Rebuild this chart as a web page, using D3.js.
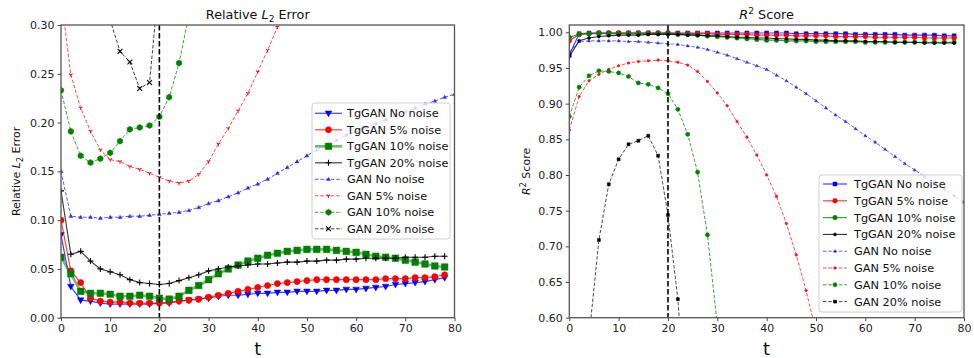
<!DOCTYPE html>
<html><head><meta charset="utf-8">
<script src="https://cdn.jsdelivr.net/npm/d3@7"></script>
<style>body{margin:0;background:#fff}svg{display:block;font-family:"DejaVu Sans",sans-serif}</style>
</head><body><svg id="c" width="974" height="358"></svg>
<script>
// ---- time points ----
const tAll = [0,2,4,6,8,10,12,14,16,18,20,22,24,26,28,30,32,34,36,38,40,42,44,46,48,50,52,54,56,58,60,62,64,66,68,70,72,74,76,78,80];
const xTicks = [0,10,20,30,40,50,60,70,80];
const yTicksL2 = [0.00,0.05,0.10,0.15,0.20,0.25,0.30];
const yTicksR2 = [0.60,0.65,0.70,0.75,0.80,0.85,0.90,0.95,1.00];
const seriesNames = ["TgGAN No noise","TgGAN 5% noise","TgGAN 10% noise","TgGAN 20% noise","GAN No noise","GAN 5% noise","GAN 10% noise","GAN 20% noise"];

// ---- Relative L2 error ----
const l2TgNone = [0.085,0.032,0.018,0.017,0.015,0.014,0.014,0.014,0.014,0.014,0.015,0.015,0.017,0.018,0.019,0.020,0.022,0.023,0.023,0.024,0.025,0.025,0.026,0.026,0.027,0.027,0.027,0.028,0.028,0.029,0.029,0.030,0.031,0.032,0.034,0.035,0.036,0.037,0.039,0.041];
const l2Tg5 = [0.100,0.048,0.036,0.020,0.017,0.016,0.016,0.015,0.015,0.015,0.015,0.016,0.017,0.018,0.019,0.021,0.023,0.025,0.027,0.029,0.031,0.033,0.035,0.036,0.037,0.038,0.039,0.039,0.039,0.039,0.039,0.039,0.039,0.040,0.040,0.040,0.041,0.041,0.042,0.044];
const l2Tg10 = [0.062,0.045,0.027,0.025,0.025,0.024,0.022,0.022,0.023,0.022,0.020,0.019,0.022,0.028,0.033,0.039,0.045,0.050,0.054,0.058,0.061,0.064,0.066,0.068,0.069,0.070,0.070,0.070,0.069,0.068,0.067,0.065,0.063,0.062,0.061,0.059,0.057,0.055,0.053,0.052];
const l2Tg20 = [0.130,0.065,0.068,0.058,0.050,0.047,0.044,0.039,0.036,0.035,0.034,0.035,0.038,0.041,0.044,0.048,0.050,0.052,0.053,0.054,0.055,0.055,0.056,0.057,0.057,0.058,0.058,0.059,0.059,0.060,0.060,0.061,0.061,0.061,0.061,0.062,0.062,0.062,0.063,0.063];
const l2GanNone = [0.150,0.104,0.103,0.103,0.102,0.103,0.103,0.104,0.104,0.105,0.106,0.107,0.108,0.110,0.113,0.117,0.120,0.124,0.128,0.133,0.137,0.142,0.148,0.154,0.160,0.166,0.172,0.177,0.182,0.187,0.191,0.195,0.199,0.203,0.207,0.211,0.215,0.219,0.222,0.226,0.229];
const l2Gan5 = [0.330,0.249,0.215,0.191,0.172,0.162,0.160,0.155,0.152,0.148,0.144,0.140,0.138,0.140,0.147,0.160,0.178,0.194,0.212,0.230,0.252,0.274,0.298,0.322,0.347];
const l2Gan10 = [0.233,0.191,0.166,0.159,0.163,0.169,0.181,0.193,0.195,0.197,0.206,0.226,0.261,0.310,0.370];
const l2Gan20 = [0.600,0.520,0.450,0.400,0.360,0.305,0.273,0.262,0.235,0.241,0.348,0.450];

// ---- R2 score ----
const r2TgNone = [0.968,0.998,0.999,0.999,0.999,0.999,0.999,0.999,0.999,0.999,0.999,0.999,0.999,0.999,0.999,0.999,0.999,0.999,0.999,0.999,0.999,0.999,0.999,0.998,0.998,0.998,0.998,0.998,0.998,0.997,0.997,0.997,0.997,0.997,0.996,0.996,0.996,0.996,0.995,0.995];
const r2Tg5 = [0.988,0.997,0.998,0.999,0.999,0.999,0.999,0.999,0.999,0.999,0.999,0.998,0.998,0.998,0.998,0.997,0.997,0.997,0.997,0.996,0.996,0.996,0.996,0.995,0.995,0.995,0.995,0.994,0.994,0.994,0.994,0.993,0.993,0.993,0.993,0.993,0.992,0.992,0.992,0.992];
const r2Tg10 = [0.993,0.997,0.998,0.998,0.998,0.998,0.998,0.998,0.998,0.998,0.998,0.997,0.997,0.996,0.995,0.994,0.993,0.992,0.991,0.990,0.989,0.989,0.988,0.988,0.988,0.987,0.987,0.987,0.987,0.987,0.986,0.986,0.986,0.986,0.986,0.986,0.986,0.986,0.986,0.986];
const r2Tg20 = [0.966,0.988,0.992,0.994,0.995,0.996,0.996,0.996,0.997,0.997,0.997,0.997,0.996,0.996,0.995,0.995,0.994,0.993,0.993,0.992,0.992,0.991,0.991,0.990,0.990,0.989,0.989,0.988,0.988,0.988,0.987,0.987,0.987,0.986,0.986,0.986,0.985,0.985,0.985,0.985];
const r2GanNone = [0.972,0.987,0.988,0.988,0.988,0.988,0.987,0.987,0.986,0.985,0.984,0.983,0.981,0.979,0.976,0.972,0.968,0.963,0.958,0.953,0.948,0.940,0.932,0.923,0.914,0.904,0.894,0.884,0.875,0.865,0.855,0.846,0.836,0.826,0.816,0.807,0.798,0.789,0.780,0.771,0.762];
const r2Gan5 = [0.863,0.910,0.932,0.941,0.948,0.953,0.957,0.959,0.960,0.961,0.960,0.958,0.954,0.945,0.931,0.915,0.897,0.875,0.853,0.828,0.800,0.770,0.732,0.688,0.638,0.580,0.520];
const r2Gan10 = [0.882,0.923,0.939,0.946,0.945,0.943,0.938,0.929,0.927,0.922,0.914,0.892,0.857,0.804,0.716,0.590,0.450];
const r2Gan20 = [0.200,0.400,0.573,0.709,0.787,0.822,0.843,0.848,0.855,0.827,0.744,0.626,0.450];

const svg = d3.select("#c");

function markerPath(type, r) {
  const p = d3.path();
  switch (type) {
    case "v": p.moveTo(0, r); p.lineTo(-r*0.95, -r*0.65); p.lineTo(r*0.95, -r*0.65); p.closePath(); break;
    case "^": p.moveTo(0, -r); p.lineTo(-r*0.95, r*0.65); p.lineTo(r*0.95, r*0.65); p.closePath(); break;
    case "o": p.arc(0, 0, r, 0, 2*Math.PI); break;
    case "s": p.rect(-r, -r, 2*r, 2*r); break;
    case "h": for (let k=0;k<6;k++){const a=-Math.PI/2+k*Math.PI/3; const x=r*Math.cos(a), y=r*Math.sin(a); if(k===0)p.moveTo(x,y); else p.lineTo(x,y);} p.closePath(); break;
    case "+": p.moveTo(-r,0); p.lineTo(r,0); p.moveTo(0,-r); p.lineTo(0,r); break;
    case "x": p.moveTo(-r,-r); p.lineTo(r,r); p.moveTo(-r,r); p.lineTo(r,-r); break;
    case "1": p.moveTo(0,0); p.lineTo(0,r); p.moveTo(0,0); p.lineTo(-r*0.87,-r*0.5); p.moveTo(0,0); p.lineTo(r*0.87,-r*0.5); break;
  }
  return p.toString();
}
const strokeMarkers = new Set(["+","x","1"]);

function drawMarker(g, type, r, color, x, y, op) {
  const path = g.append("path").attr("d", markerPath(type, r)).attr("transform", `translate(${x},${y})`);
  if (strokeMarkers.has(type)) path.attr("fill","none").attr("stroke",color).attr("stroke-width",1.1);
  else path.attr("fill",color).attr("stroke",color).attr("stroke-width",0.5);
  if (op !== undefined) path.attr("opacity", op);
}

function makePanel(cfg) {
  const x = d3.scaleLinear().domain([0,80]).range([cfg.x0, cfg.x1]);
  const y = d3.scaleLinear().domain(cfg.yDomain).range([cfg.yb, cfg.yt]);
  const g = svg.append("g");
  const clipId = "clip" + cfg.id;
  svg.append("clipPath").attr("id", clipId).append("rect")
    .attr("x", cfg.x0).attr("y", cfg.yt).attr("width", cfg.x1-cfg.x0).attr("height", cfg.yb-cfg.yt);
  const plot = g.append("g").attr("clip-path", `url(#${clipId})`);

  cfg.series.forEach(s => {
    const pts = s.values.map((v,i)=>[tAll[i], v]);
    const line = d3.line().x(d=>x(d[0])).y(d=>y(d[1]));
    plot.append("path").attr("d", line(pts)).attr("fill","none")
      .attr("stroke", s.color).attr("stroke-width", s.lw).attr("opacity", s.lop)
      .attr("stroke-dasharray", s.dash || null);
    const mg = plot.append("g");
    pts.forEach(d => drawMarker(mg, s.marker, s.ms, s.color, x(d[0]), y(d[1]), s.mop));
  });

  g.append("line").attr("x1", x(20)).attr("x2", x(20)).attr("y1", cfg.yt).attr("y2", cfg.yb)
    .attr("stroke","#000").attr("stroke-width",1.6).attr("stroke-dasharray","5.5,2.5");

  const xa = g.append("g").attr("transform", `translate(0,${cfg.yb})`)
    .call(d3.axisBottom(x).tickValues(xTicks).tickFormat(d3.format("d")).tickSizeOuter(0).tickSize(3.5).tickPadding(3));
  const ya = g.append("g").attr("transform", `translate(${cfg.x0},0)`)
    .call(d3.axisLeft(y).tickValues(cfg.yTicks).tickFormat(d3.format(".2f")).tickSizeOuter(0).tickSize(3.5).tickPadding(3));
  [xa, ya].forEach(a => {
    a.select(".domain").remove();
    a.selectAll("text").attr("font-size", 11).attr("fill", "#222").attr("font-family","DejaVu Sans");
    a.selectAll("line").attr("stroke", "#444");
  });

  g.append("rect").attr("x", cfg.x0).attr("y", cfg.yt).attr("width", cfg.x1-cfg.x0).attr("height", cfg.yb-cfg.yt)
    .attr("fill","none").attr("stroke","#555").attr("stroke-width",1.3);

  const tt = g.append("text").attr("x", (cfg.x0+cfg.x1)/2).attr("y", 19).attr("text-anchor","middle")
    .attr("font-size", 12.8).attr("fill","#111");
  cfg.title(tt);
  const yl = g.append("text").attr("transform", `translate(${cfg.ylx},${(cfg.yt+cfg.yb)/2}) rotate(-90)`)
    .attr("text-anchor","middle").attr("font-size", 11).attr("fill","#111");
  cfg.ylabel(yl);
  g.append("text").attr("x", (cfg.x0+cfg.x1)/2).attr("y", 355).attr("text-anchor","middle")
    .attr("font-size", 18).attr("fill","#111").text("t");

  const L = cfg.legend;
  const lg = g.append("g");
  lg.append("rect").attr("x", L.x).attr("y", L.y).attr("width", L.w).attr("height", L.h).attr("rx", 3)
    .attr("fill","#fff").attr("fill-opacity",0.8).attr("stroke","#d0d0d0").attr("stroke-width",1);
  cfg.series.forEach((s,i) => {
    const yy = L.y0 + i*L.dy;
    lg.append("line").attr("x1", L.lx0).attr("x2", L.lx1).attr("y1", yy).attr("y2", yy)
      .attr("stroke", s.color).attr("stroke-width", s.lw).attr("opacity", s.lop).attr("stroke-dasharray", s.dash || null);
    drawMarker(lg, s.marker, s.lms || s.ms, s.color, (L.lx0+L.lx1)/2, yy, s.mop);
    lg.append("text").attr("x", L.tx).attr("y", yy+4).attr("font-size", 11.3).attr("fill","#111").text(seriesNames[i]);
  });
  return {x,y};
}

makePanel({
  id: "L", x0: 61, x1: 454.5, yt: 25, yb: 317.7, yDomain: [0, 0.30], yTicks: yTicksL2, ylx: 20,
  title: t => { t.append("tspan").text("Relative "); t.append("tspan").attr("font-style","italic").text("L");
    t.append("tspan").attr("font-size",9).attr("dy",3).text("2"); t.append("tspan").attr("dy",-3).text(" Error"); },
  ylabel: t => { t.append("tspan").text("Relative "); t.append("tspan").attr("font-style","italic").text("L");
    t.append("tspan").attr("font-size",8).attr("dy",3).text("2"); t.append("tspan").attr("dy",-3).text(" Error"); },
  series: [
    {values: l2TgNone, color:"#0000ff", lw:1.2, lop:0.75, marker:"v", ms:3.5, mop:1},
    {values: l2Tg5, color:"#ff0000", lw:1.2, lop:0.75, marker:"o", ms:3.1, mop:1},
    {values: l2Tg10, color:"#008000", lw:2.6, lop:0.55, marker:"s", ms:3.3, mop:1},
    {values: l2Tg20, color:"#000000", lw:1.1, lop:0.8, marker:"+", ms:3.0, mop:1},
    {values: l2GanNone, color:"#0000ff", lw:1, lop:0.65, marker:"^", ms:2.0, mop:0.8, dash:"3.5,1.8"},
    {values: l2Gan5, color:"#ff0000", lw:1, lop:0.7, marker:"1", ms:2.1, mop:0.9, dash:"3.5,1.8"},
    {values: l2Gan10, color:"#008000", lw:1, lop:0.75, marker:"h", ms:3.1, mop:1, dash:"3.5,1.8"},
    {values: l2Gan20, color:"#000000", lw:1, lop:0.75, marker:"x", ms:2.4, mop:1, dash:"3.5,1.8"}
  ],
  legend: {x:312, y:103, w:138, h:136, y0:113.3, dy:16.5, lx0:315, lx1:342, tx:347}
});

makePanel({
  id: "R", x0: 569.3, x1: 964, yt: 25, yb: 317.7, yDomain: [0.6, 1.0102], yTicks: yTicksR2, ylx: 530,
  title: t => { t.append("tspan").attr("font-style","italic").text("R");
    t.append("tspan").attr("font-size",9).attr("dy",-5).text("2"); t.append("tspan").attr("dy",5).text(" Score"); },
  ylabel: t => { t.append("tspan").attr("font-style","italic").text("R");
    t.append("tspan").attr("font-size",8).attr("dy",-4).text("2"); t.append("tspan").attr("dy",4).text(" Score"); },
  series: [
    {values: r2TgNone, color:"#0000ff", lw:1.2, lop:0.75, marker:"s", ms:2.0, mop:1},
    {values: r2Tg5, color:"#ff0000", lw:1.2, lop:0.75, marker:"o", ms:2.4, mop:1},
    {values: r2Tg10, color:"#008000", lw:1.2, lop:0.75, marker:"o", ms:2.3, mop:1},
    {values: r2Tg20, color:"#000000", lw:1.1, lop:0.8, marker:"o", ms:1.5, mop:1},
    {values: r2GanNone, color:"#0000ff", lw:1, lop:0.6, marker:"^", ms:1.6, mop:0.8, dash:"3.5,1.8"},
    {values: r2Gan5, color:"#ff0000", lw:1, lop:0.7, marker:"o", ms:1.3, mop:0.9, dash:"3.5,1.8"},
    {values: r2Gan10, color:"#008000", lw:1, lop:0.75, marker:"o", ms:2.1, mop:1, dash:"3.5,1.8"},
    {values: r2Gan20, color:"#000000", lw:1, lop:0.7, marker:"s", ms:1.5, mop:1, dash:"3.5,1.8"}
  ],
  legend: {x:819, y:175, w:143, h:137, y0:184, dy:16.8, lx0:823, lx1:847, tx:854}
});
</script></body></html>
